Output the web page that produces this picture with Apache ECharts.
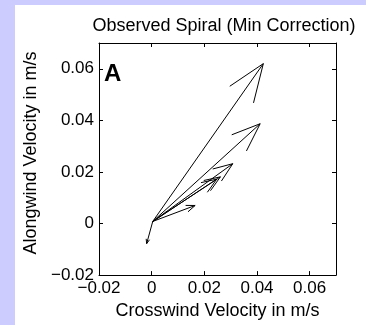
<!DOCTYPE html>
<html>
<head>
<meta charset="utf-8">
<script src="https://cdn.jsdelivr.net/npm/echarts@6/dist/echarts.min.js"></script>
<style>
html,body{margin:0;padding:0;background:#ccccff;width:366px;height:325px;overflow:hidden;}
#paper{position:absolute;left:15px;top:5px;width:351px;height:320px;background:#fff;}
#chart{position:absolute;left:0;top:0;width:366px;height:325px;}
</style>
</head>
<body>
<div id="paper"></div>
<div id="chart"></div>
<script>
// Data: arrows start at a common base point and end at velocity tips
const baseX = [0.0004, 0.0004, 0.0004, 0.0004, 0.0004, 0.0004, 0.0004];
const baseY = [0.0008, 0.0008, 0.0008, 0.0008, 0.0008, 0.0008, 0.0008];
const tipX  = [-0.0019, 0.0165, 0.0247, 0.0261, 0.0308, 0.0412, 0.0424];
const tipY  = [-0.0078, 0.0070, 0.0172, 0.0181, 0.0232, 0.0387, 0.0620];
const xTicks = [-0.02, 0, 0.02, 0.04, 0.06];
const yTicks = [-0.02, 0, 0.02, 0.04, 0.06];
const titleText = 'Observed Spiral (Min Correction)';
const xName = 'Crosswind Velocity in m/s';
const yName = 'Alongwind Velocity in m/s';
const panelLabel = 'A';

const arrowData = tipX.map((x, i) => [baseX[i], baseY[i], x, tipY[i]]);
const FONT = '"Liberation Sans", Arial, Helvetica, sans-serif';

function fmt(ticks) {
  return function (v) {
    for (const t of ticks) {
      if (Math.abs(v - t) < 1e-9) {
        return t < 0 ? '\u2212' + String(Math.abs(t)) : String(t);
      }
    }
    return '';
  };
}

const chart = echarts.init(document.getElementById('chart'), null, {renderer: 'canvas'});
const axisCommon = {
  type: 'value',
  interval: 0.02,
  splitLine: {show: false},
  axisLine: {show: true, onZero: false, lineStyle: {color: '#000', width: 1}},
  axisTick: {show: true, inside: true, length: 4, lineStyle: {color: '#000'}},
};
chart.setOption({
  backgroundColor: 'transparent',
  animation: false,
  textStyle: {fontFamily: FONT},
  title: {
    text: titleText,
    left: 219, top: 12, textAlign: 'center',
    textStyle: {fontFamily: FONT, fontSize: 18, fontWeight: 'normal', color: '#000'}
  },
  graphic: [{
    type: 'text', left: 104, top: 62,
    style: {text: panelLabel, font: 'bold 24px ' + FONT, fill: '#000'}
  }],
  grid: {left: 99, top: 43, right: 30, bottom: 44, containLabel: false},
  xAxis: [
    Object.assign({}, axisCommon, {
      min: -0.02, max: 0.07, position: 'bottom',
      name: xName, nameLocation: 'middle', nameGap: 22,
      nameTextStyle: {fontFamily: FONT, fontSize: 18, color: '#000'},
      axisLabel: {show: true, margin: 5, color: '#000', fontFamily: FONT, fontSize: 17,
        showMinLabel: true, showMaxLabel: false, formatter: fmt(xTicks)}
    }),
    Object.assign({}, axisCommon, {
      min: -0.02, max: 0.07, position: 'top', axisLabel: {show: false}
    })
  ],
  yAxis: [
    Object.assign({}, axisCommon, {
      min: -0.02, max: 0.07, position: 'left',
      name: yName, nameLocation: 'middle', nameGap: 47,
      nameTextStyle: {fontFamily: FONT, fontSize: 18, color: '#000', padding: [0, 0, 0, 12]},
      axisLabel: {show: true, margin: 5, color: '#000', fontFamily: FONT, fontSize: 17,
        showMinLabel: true, showMaxLabel: false, formatter: fmt(yTicks)}
    }),
    Object.assign({}, axisCommon, {
      min: -0.02, max: 0.07, position: 'right', axisLabel: {show: false}
    })
  ],
  series: [{
    type: 'custom',
    xAxisIndex: 0, yAxisIndex: 0,
    data: arrowData,
    encode: {x: [0, 2], y: [1, 3]},
    renderItem: function (params, api) {
      const p0 = api.coord([api.value(0), api.value(1)]);
      const p1 = api.coord([api.value(2), api.value(3)]);
      const dx = p1[0] - p0[0], dy = p1[1] - p0[1];
      const len = Math.sqrt(dx * dx + dy * dy) || 1;
      const hl = 0.21 * len;
      const ang = Math.atan2(-dy, -dx);
      const a = 21 * Math.PI / 180;
      const h1 = [p1[0] + hl * Math.cos(ang + a), p1[1] + hl * Math.sin(ang + a)];
      const h2 = [p1[0] + hl * Math.cos(ang - a), p1[1] + hl * Math.sin(ang - a)];
      const st = {stroke: '#000', lineWidth: 1, fill: null};
      return {
        type: 'group',
        children: [
          {type: 'polyline', shape: {points: [p0, p1]}, style: st},
          {type: 'polyline', shape: {points: [h1, p1, h2]}, style: st}
        ]
      };
    }
  }]
});
</script>
</body>
</html>
